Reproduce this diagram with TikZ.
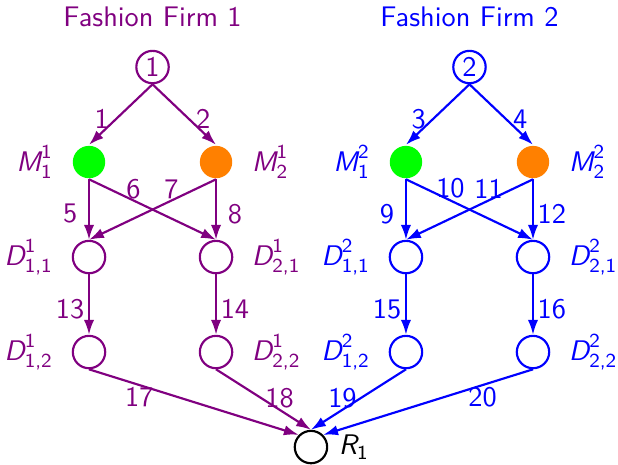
\documentclass[tikz,border=0pt]{standalone}
\usepackage{amsmath}
\usepackage{tikz}
\usetikzlibrary{arrows.meta, positioning}

\definecolor{firmone}{RGB}{128,0,128}
\definecolor{firmtwo}{RGB}{0,0,255}
\definecolor{mgreen}{RGB}{0,255,0}
\definecolor{morange}{RGB}{255,128,0}

% italic letter with upright sans scripts
\newcommand{\nm}[3]{$\textit{#1}^{\textsf{#2}}_{\textsf{#3}}$}

\begin{document}
\begin{tikzpicture}[
            >={Latex[length=5.5pt,width=3.8pt]},
            thick,
            font=\sffamily\fontsize{10.5pt}{12.6pt}\selectfont,
            stage/.style={circle, draw, minimum size=12pt, inner sep=0pt, on grid},
            maker/.style={circle, minimum size=12pt, inner sep=0pt, on grid},
            tag/.style={inner sep=0pt},
            num/.style={inner sep=0pt},
        ]
        \def\dy{1.237cm}
        \def\hx{0.827cm}
        \useasboundingbox (0,0) rectangle (8.047,6.042);

        \node[stage] (r1) at (4.049,0.221) {};
        \node[tag, right=3.5pt of r1] (r1l) {$\textit{R}_{\textsf{1}}$};

        % Fashion Firm 1
        \begin{scope}[color=firmone]
        \node[stage] (f1) at (1.986,5.169) {1};
        \node[tag, above=8.1pt of f1] (t1) {Fashion Firm 1};
        \node[maker, fill=mgreen, below left=\dy and \hx of f1] (m11) {};
        \node[maker, fill=morange, below right=\dy and \hx of f1] (m21) {};
        \node[stage, below=\dy of m11] (d111) {};
        \node[stage, below=\dy of m21] (d211) {};
        \node[stage, below=\dy of d111] (d121) {};
        \node[stage, below=\dy of d211] (d221) {};

        \node[tag, left=6.5pt of m11] (m11l) {\nm{M}{1}{1}};
        \node[tag, right=6.5pt of m21] (m21l) {\nm{M}{1}{2}};
        \node[tag, left=6.5pt of d111] (d111l) {\nm{D}{1}{1,1}};
        \node[tag, right=6.5pt of d211] (d211l) {\nm{D}{1}{2,1}};
        \node[tag, left=6.5pt of d121] (d121l) {\nm{D}{1}{1,2}};
        \node[tag, right=6.5pt of d221] (d221l) {\nm{D}{1}{2,2}};

        \draw[->] (f1.south) -- node[num, pos=.57, xshift=-5.4pt] {1} (m11.north);
        \draw[->] (f1.south) -- node[num, pos=.57, xshift=5.4pt] {2} (m21.north);
        \draw[->] (m11.south) -- node[num, pos=.57, xshift=-7pt] {5} (d111.north);
        \draw[->] (m11.south) -- node[num, pos=.35, yshift=4.2pt] {6} (d211.north);
        \draw[->] (m21.south) -- node[num, pos=.35, yshift=4.2pt] {7} (d111.north);
        \draw[->] (m21.south) -- node[num, pos=.57, xshift=7pt] {8} (d211.north);
        \draw[->] (d111.south) -- node[num, pos=.57, xshift=-7pt] {13} (d121.north);
        \draw[->] (d211.south) -- node[num, pos=.57, xshift=7pt] {14} (d221.north);
        \draw[->] (d121.south) -- node[num, pos=.24, yshift=-4.5pt] {17} (r1.north west);
        \draw[->] (d221.south) -- node[num, pos=.47, xshift=7pt] {18} (r1.north);
        \end{scope}

        % Fashion Firm 2
        \begin{scope}[color=firmtwo]
        \node[stage] (f2) at (6.113,5.169) {2};
        \node[tag, above=8.1pt of f2] (t2) {Fashion Firm 2};
        \node[maker, fill=mgreen, below left=\dy and \hx of f2] (m12) {};
        \node[maker, fill=morange, below right=\dy and \hx of f2] (m22) {};
        \node[stage, below=\dy of m12] (d112) {};
        \node[stage, below=\dy of m22] (d212) {};
        \node[stage, below=\dy of d112] (d122) {};
        \node[stage, below=\dy of d212] (d222) {};

        \node[tag, left=6.5pt of m12] (m12l) {\nm{M}{2}{1}};
        \node[tag, right=6.5pt of m22] (m22l) {\nm{M}{2}{2}};
        \node[tag, left=6.5pt of d112] (d112l) {\nm{D}{2}{1,1}};
        \node[tag, right=6.5pt of d212] (d212l) {\nm{D}{2}{2,1}};
        \node[tag, left=6.5pt of d122] (d122l) {\nm{D}{2}{1,2}};
        \node[tag, right=6.5pt of d222] (d222l) {\nm{D}{2}{2,2}};

        \draw[->] (f2.south) -- node[num, pos=.57, xshift=-5.4pt] {3} (m12.north);
        \draw[->] (f2.south) -- node[num, pos=.57, xshift=5.4pt] {4} (m22.north);
        \draw[->] (m12.south) -- node[num, pos=.57, xshift=-7pt] {9} (d112.north);
        \draw[->] (m12.south) -- node[num, pos=.35, yshift=4.4pt] {10} (d212.north);
        \draw[->] (m22.south) -- node[num, pos=.35, yshift=4.4pt] {11} (d112.north);
        \draw[->] (m22.south) -- node[num, pos=.57, xshift=7pt] {12} (d212.north);
        \draw[->] (d112.south) -- node[num, pos=.57, xshift=-7pt] {15} (d122.north);
        \draw[->] (d212.south) -- node[num, pos=.57, xshift=7pt] {16} (d222.north);
        \draw[->] (d122.south) -- node[num, pos=.47, xshift=-7pt] {19} (r1.north);
        \draw[->] (d222.south) -- node[num, pos=.24, yshift=-4.5pt] {20} (r1.north east);
        \end{scope}
        \end{tikzpicture}
\end{document}
